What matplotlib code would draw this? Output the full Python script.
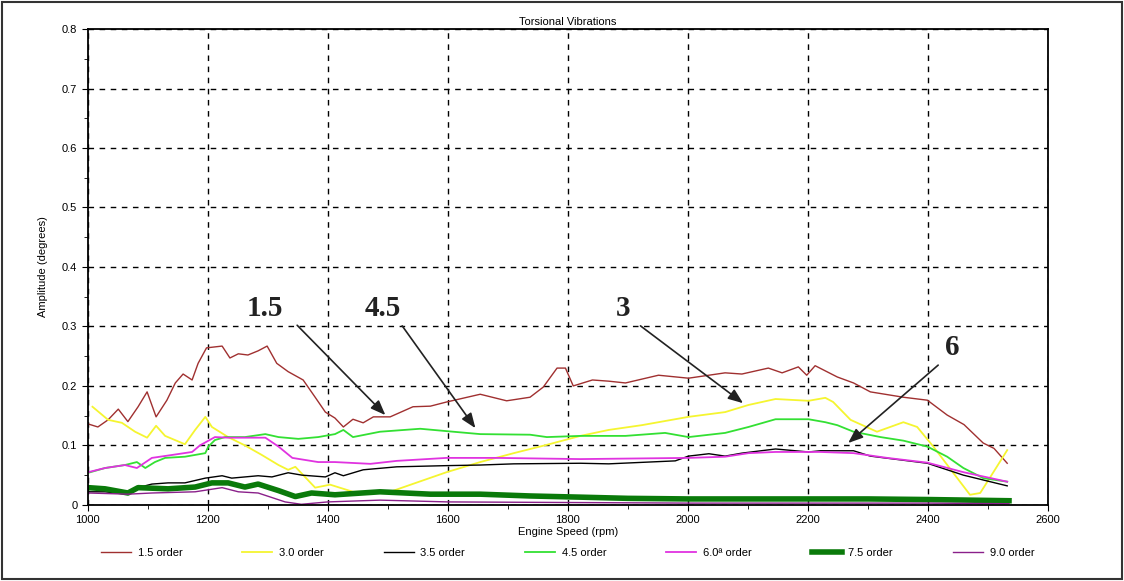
import matplotlib
matplotlib.use("Agg")
import matplotlib.pyplot as plt
from matplotlib.ticker import MultipleLocator, FuncFormatter
from matplotlib.patches import Rectangle

plt.rcParams['font.family'] = ['Liberation Sans', 'DejaVu Sans']

# 1.5 order
rpm_15 = [1001, 1017, 1034, 1051, 1067, 1084, 1099, 1114, 1132, 1146, 1159, 1174, 1184, 1198,
          1224, 1237, 1251, 1267, 1284, 1299, 1315, 1334, 1359, 1379, 1396, 1412, 1426, 1442,
          1459, 1476, 1504, 1542, 1571, 1598, 1654, 1698, 1737, 1759, 1782, 1796, 1809, 1841,
          1868, 1896, 1951, 2001, 2062, 2090, 2134, 2157, 2184, 2198, 2212, 2249, 2276, 2304,
          2359, 2399, 2432, 2460, 2492, 2510, 2532]
amp_15 = [0.136, 0.131, 0.143, 0.161, 0.140, 0.165, 0.190, 0.148, 0.176, 0.205, 0.220, 0.210,
          0.238, 0.264, 0.267, 0.247, 0.254, 0.252, 0.259, 0.267, 0.238, 0.224, 0.210, 0.181,
          0.156, 0.146, 0.131, 0.144, 0.138, 0.148, 0.148, 0.165, 0.166, 0.173, 0.186, 0.175,
          0.181, 0.198, 0.230, 0.230, 0.200, 0.210, 0.208, 0.205, 0.218, 0.213, 0.222, 0.220,
          0.230, 0.222, 0.232, 0.218, 0.234, 0.215, 0.205, 0.190, 0.181, 0.176, 0.151, 0.135,
          0.104, 0.095, 0.070]

# 3.0 order
rpm_30 = [1008, 1034, 1057, 1079, 1099, 1114, 1129, 1162, 1179, 1196, 1207, 1234, 1262, 1290,
          1318, 1334, 1346, 1362, 1379, 1404, 1442, 1504, 1598, 1654, 1710, 1765, 1821, 1868,
          1923, 2001, 2062, 2101, 2146, 2201, 2229, 2242, 2271, 2315, 2359, 2382, 2409, 2442,
          2470, 2487, 2504, 2532]
amp_30 = [0.165, 0.143, 0.138, 0.123, 0.113, 0.133, 0.116, 0.102, 0.126, 0.148, 0.131, 0.114,
          0.100, 0.084, 0.067, 0.059, 0.064, 0.047, 0.029, 0.034, 0.022, 0.022, 0.055, 0.072,
          0.087, 0.101, 0.116, 0.126, 0.134, 0.148, 0.156, 0.168, 0.178, 0.175, 0.180, 0.173,
          0.143, 0.123, 0.139, 0.131, 0.098, 0.054, 0.017, 0.020, 0.047, 0.092]

# 3.5 order
rpm_35 = [1001, 1029, 1067, 1084, 1107, 1134, 1162, 1196, 1224, 1240, 1284, 1307, 1334, 1357,
          1396, 1412, 1426, 1459, 1515, 1598, 1654, 1710, 1821, 1868, 1979, 2001, 2035, 2062,
          2090, 2146, 2201, 2221, 2276, 2304, 2399, 2459, 2532]
amp_35 = [0.022, 0.022, 0.018, 0.029, 0.035, 0.037, 0.037, 0.045, 0.049, 0.045, 0.049, 0.047,
          0.054, 0.050, 0.047, 0.054, 0.049, 0.059, 0.064, 0.066, 0.067, 0.069, 0.070, 0.069,
          0.074, 0.082, 0.086, 0.082, 0.087, 0.094, 0.089, 0.091, 0.091, 0.082, 0.070, 0.050,
          0.032]

# 4.5 order
rpm_45 = [1001, 1029, 1062, 1082, 1096, 1112, 1129, 1162, 1196, 1201, 1212, 1229, 1262, 1296,
          1318, 1351, 1384, 1412, 1426, 1442, 1487, 1554, 1598, 1654, 1737, 1765, 1821, 1896,
          1962, 2001, 2062, 2101, 2146, 2201, 2229, 2249, 2276, 2321, 2359, 2399, 2432, 2459,
          2492, 2532]
amp_45 = [0.054, 0.062, 0.067, 0.072, 0.062, 0.072, 0.079, 0.081, 0.087, 0.098, 0.109, 0.114,
          0.114, 0.119, 0.114, 0.111, 0.114, 0.119, 0.126, 0.114, 0.123, 0.128, 0.124, 0.119,
          0.118, 0.114, 0.116, 0.116, 0.121, 0.114, 0.121, 0.131, 0.144, 0.144, 0.139, 0.134,
          0.123, 0.114, 0.108, 0.098, 0.081, 0.062, 0.045, 0.039]

# 6.0 order
rpm_60 = [1001, 1029, 1062, 1082, 1107, 1141, 1174, 1187, 1212, 1234, 1296, 1318, 1341, 1384,
          1412, 1471, 1515, 1598, 1682, 1821, 2001, 2062, 2101, 2146, 2201, 2221, 2276, 2332,
          2399, 2459, 2532]
amp_60 = [0.055, 0.062, 0.067, 0.062, 0.079, 0.084, 0.089, 0.100, 0.114, 0.113, 0.113, 0.098,
          0.079, 0.072, 0.072, 0.069, 0.074, 0.079, 0.079, 0.077, 0.079, 0.081, 0.087, 0.089,
          0.089, 0.089, 0.087, 0.079, 0.071, 0.055, 0.039]

# 7.5 order
rpm_75 = [1001, 1029, 1067, 1084, 1134, 1179, 1207, 1234, 1262, 1284, 1318, 1346, 1373, 1412,
          1487, 1571, 1654, 1737, 1821, 1900, 2000, 2100, 2200, 2300, 2400, 2535]
amp_75 = [0.029, 0.027, 0.020, 0.029, 0.027, 0.030, 0.037, 0.037, 0.030, 0.035, 0.024, 0.014,
          0.020, 0.017, 0.022, 0.018, 0.018, 0.015, 0.013, 0.011, 0.010, 0.010, 0.010, 0.010,
          0.009, 0.007]

# 9.0 order
rpm_90 = [1001, 1067, 1107, 1179, 1224, 1251, 1284, 1329, 1356, 1400, 1487, 1600, 1800, 2000,
          2200, 2400, 2535]
amp_90 = [0.020, 0.018, 0.020, 0.022, 0.029, 0.022, 0.020, 0.005, 0.001, 0.005, 0.008, 0.005,
          0.004, 0.003, 0.003, 0.003, 0.002]

fig = plt.figure(figsize=(11.24, 5.81), dpi=100)
ax = fig.add_axes([0.078, 0.131, 0.8544, 0.819])

ax.plot(rpm_15, amp_15, color="#a03030", lw=1.0, label="1.5 order")
ax.plot(rpm_30, amp_30, color="#f5f530", lw=1.3, label="3.0 order")
ax.plot(rpm_35, amp_35, color="black", lw=1.0, label="3.5 order")
ax.plot(rpm_45, amp_45, color="#33e033", lw=1.3, label="4.5 order")
ax.plot(rpm_60, amp_60, color="#e033e0", lw=1.3, label="6.0ª order")
ax.plot(rpm_75, amp_75, color="#0a7a0a", lw=4.0, label="7.5 order")
ax.plot(rpm_90, amp_90, color="#8a208a", lw=1.0, label="9.0 order")

ax.set_xlim(1000, 2600)
ax.set_ylim(0, 0.8)
ax.xaxis.set_major_locator(MultipleLocator(200))
ax.xaxis.set_minor_locator(MultipleLocator(100))
ax.yaxis.set_major_locator(MultipleLocator(0.1))
ax.yaxis.set_minor_locator(MultipleLocator(0.05))
ax.yaxis.set_major_formatter(FuncFormatter(lambda v, p: "0" if abs(v) < 1e-9 else "%.1f" % v))
ax.tick_params(which="both", direction="out", labelsize=8, color="black")
ax.tick_params(which="major", length=4)
ax.tick_params(which="minor", length=3)
ax.grid(which="major", color="black", linestyle=(0, (4, 4)), lw=1.0)
for s in ax.spines.values():
    s.set_linewidth(1.3)

ax.set_title("Torsional Vibrations", fontsize=8, pad=3)
ax.set_xlabel("Engine Speed (rpm)", fontsize=8, labelpad=1)
ax.set_ylabel("Amplitude (degrees)", fontsize=8, labelpad=10)

# arrows with labels
notes = [("1.5", 1296, 0.331, 1349, 0.302, 1496, 0.151),
         ("4.5", 1492, 0.331, 1524, 0.301, 1646, 0.129),
         ("3", 1892, 0.331, 1921, 0.301, 2092, 0.171),
         ("6", 2440, 0.264, 2417, 0.235, 2267, 0.104)]
for txt, tx, ty, sx, sy, ex, ey in notes:
    ax.text(tx, ty, txt, family="Liberation Serif", fontsize=21, fontweight="bold",
            ha="center", va="center", color="#222222")
    ax.annotate("", xy=(ex, ey), xytext=(sx, sy),
                arrowprops=dict(arrowstyle="-|>,head_length=0.9,head_width=0.35",
                                color="#222222", lw=1.2, shrinkA=0, shrinkB=0))

leg = fig.legend(loc="center", bbox_to_anchor=(0.505, 0.048), ncol=7, frameon=False,
                 fontsize=8, handlelength=2.7, columnspacing=5.4, handletextpad=0.6)

fig.patches.append(Rectangle((0.002, 0.004), 0.996, 0.993, transform=fig.transFigure,
                             fill=False, edgecolor="#333333", lw=1.5))

fig.savefig("out.png", dpi=100)
